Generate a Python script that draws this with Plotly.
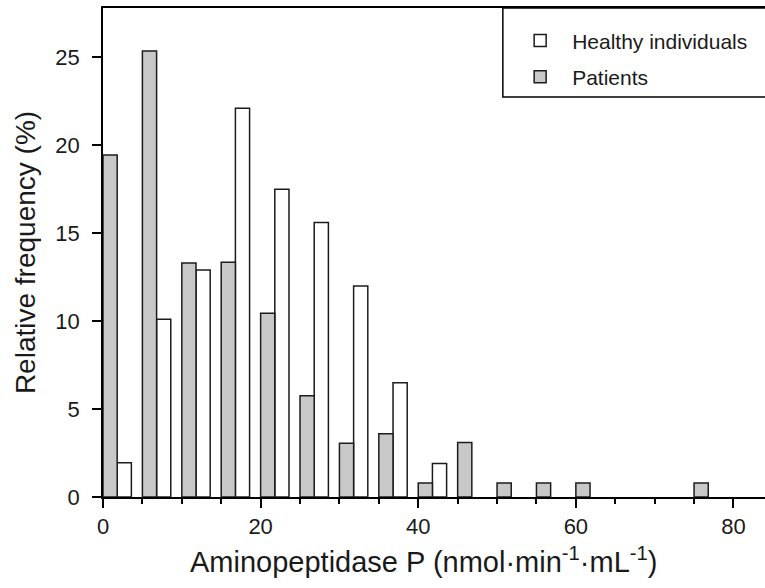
import plotly.graph_objects as go

# Bin starts (nmol·min-1·mL-1), bin width 5
bin_starts = [0, 5, 10, 15, 20, 25, 30, 35, 40, 45, 50, 55, 60, 65, 70, 75]
healthy = [1.95, 10.1, 12.9, 22.1, 17.5, 15.6, 12.0, 6.5, 1.9, 0, 0, 0, 0, 0, 0, 0]
patients = [19.45, 25.35, 13.3, 13.35, 10.45, 5.75, 3.05, 3.6, 0.8, 3.1, 0.8, 0.8, 0.8, 0, 0, 0.8]

x_ticks = [0, 20, 40, 60, 80]
y_ticks = [0, 5, 10, 15, 20, 25]

FONT = "Liberation Sans, Arial, Helvetica, sans-serif"
OUTLINE = "#1c1c1c"
TEXT = "#1a1a1a"


def nz(vals):
    # empty bins draw no bar
    return [v if v > 0 else None for v in vals]


fig = go.Figure()
fig.add_trace(go.Bar(
    x=bin_starts, y=nz(healthy), name="Healthy individuals",
    offset=1.8, width=1.8,
    marker=dict(color="white", line=dict(color=OUTLINE, width=1.5)),
    legendgroup="h",
))
fig.add_trace(go.Bar(
    x=bin_starts, y=nz(patients), name="Patients",
    offset=0, width=1.8,
    marker=dict(color="#c8c8c8", line=dict(color=OUTLINE, width=1.5)),
    legendgroup="p",
))

# legend frame
fig.add_shape(type="rect", xref="paper", yref="paper",
              x0=0.604, x1=1.05, y0=0.818, y1=1.0,
              line=dict(color="black", width=1.5), fillcolor="rgba(0,0,0,0)",
              layer="above")

# x-axis title
fig.add_annotation(
    text="Aminopeptidase P (nmol·min<sup>-1</sup>·mL<sup>-1</sup>)",
    xref="paper", yref="paper", x=0.485, y=-0.129,
    xanchor="center", yanchor="middle", showarrow=False,
    font=dict(size=29, family=FONT, color=TEXT),
)

fig.update_layout(
    width=765, height=588,
    margin=dict(l=103, r=0, t=8, b=91),
    paper_bgcolor="white", plot_bgcolor="white",
    barmode="overlay",
    font=dict(family=FONT, color=TEXT),
    showlegend=True,
    legend=dict(
        x=0.612, y=0.975, xanchor="left", yanchor="top",
        bgcolor="rgba(0,0,0,0)", borderwidth=0,
        font=dict(size=21, family=FONT, color=TEXT),
        itemwidth=54, tracegroupgap=6, traceorder="grouped",
    ),
    xaxis=dict(
        range=[0, 84], tickvals=x_ticks, ticktext=[str(v) for v in x_ticks],
        ticks="outside", ticklen=9, tickwidth=1.5, tickcolor="black",
        minor=dict(dtick=5, tick0=0, ticks="outside", ticklen=5, tickwidth=1.5, tickcolor="black"),
        showline=True, linecolor="black", linewidth=1.5, mirror=True,
        showgrid=False, zeroline=False,
        tickfont=dict(size=22, family=FONT, color=TEXT),
        ticklabelstandoff=0,
    ),
    yaxis=dict(
        range=[0, 27.8], tickvals=y_ticks, ticktext=[str(v) for v in y_ticks],
        ticks="outside", ticklen=9, tickwidth=1.5, tickcolor="black",
        showline=True, linecolor="black", linewidth=1.5, mirror=False,
        showgrid=False, zeroline=False,
        tickfont=dict(size=22, family=FONT, color=TEXT),
        ticklabelstandoff=8,
        title=dict(text="Relative frequency (%)",
                   font=dict(size=28, family=FONT, color=TEXT), standoff=12),
    ),
)

fig.write_html("out.html", config={"displayModeBar": False},
               post_script="document.body.style.margin='0';document.body.style.overflow='hidden';")
